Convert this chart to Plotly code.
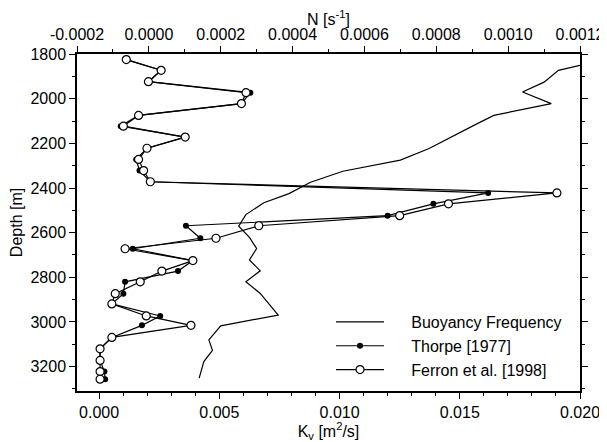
import plotly.graph_objects as go

# Buoyancy frequency N [s^-1] vs depth [m]
n_depth = [1851, 1873, 1926, 1970, 2022, 2075, 2115, 2175, 2223, 2275, 2325, 2374,
           2425, 2466, 2519, 2571, 2621, 2671, 2722, 2771, 2820, 2872, 2969, 3017,
           3080, 3127, 3177, 3251]
n_value = [0.00120, 0.00114, 0.00110, 0.00104, 0.00112, 0.00096, 0.00091, 0.00084,
           0.00078, 0.00070, 0.00054, 0.00045, 0.00039, 0.00032, 0.00027, 0.00025,
           0.00028, 0.00030, 0.00028, 0.00031, 0.00027, 0.00031, 0.00036, 0.00020,
           0.000167, 0.000177, 0.000153, 0.00014]

# Kv [m^2/s] vs depth [m]
k_depth = [1825, 1873, 1924, 1973, 2022, 2075, 2123, 2172, 2222, 2272, 2322, 2372,
           2422, 2471, 2524, 2569, 2625, 2672, 2725, 2772, 2820, 2873, 2919, 2973,
           3015, 3069, 3120, 3172, 3222, 3256]
thorpe_kv = [0.00113, 0.00258, 0.00205, 0.00629, 0.00592, 0.00164, 0.00090, 0.00358,
             0.00199, 0.00154, 0.00168, 0.00213, 0.01618, 0.01390, 0.01200, 0.00361,
             0.00421, 0.00140, 0.00390, 0.00328, 0.00108, 0.00101, 0.00053, 0.00254,
             0.00178, 0.00053, 0.00004, 0.00004, 0.00022, 0.00025]
ferron_kv = [0.00113, 0.00258, 0.00205, 0.00611, 0.00592, 0.00164, 0.00101, 0.00358,
             0.00199, 0.00164, 0.00185, 0.00213, 0.01904, 0.01453, 0.01250, 0.00664,
             0.00486, 0.00108, 0.00390, 0.00261, 0.00171, 0.00067, 0.00053, 0.00196,
             0.00382, 0.00053, 0.00004, 0.00004, 0.00004, 0.00004]

n_tickvals = [-0.0002, 0.0, 0.0002, 0.0004, 0.0006, 0.0008, 0.0010, 0.0012]
n_ticktext = ["-0.0002", "0.0000", "0.0002", "0.0004", "0.0006", "0.0008", "0.0010", "0.0012"]
k_tickvals = [0.0, 0.005, 0.010, 0.015, 0.020]
k_ticktext = ["0.000", "0.005", "0.010", "0.015", "0.020"]
depth_tickvals = [1800, 2000, 2200, 2400, 2600, 2800, 3000, 3200]

FONT = "Liberation Sans, Arial, sans-serif"
FS = 16
PAD = "\u00a0" * 5  # gap between legend line sample and label

fig = go.Figure()
fig.add_trace(go.Scatter(
    x=n_value, y=n_depth, xaxis="x2", yaxis="y", mode="lines",
    name=PAD + "Buoyancy Frequency", line=dict(color="black", width=1.2)))
fig.add_trace(go.Scatter(
    x=thorpe_kv, y=k_depth, mode="lines+markers", name=PAD + "Thorpe [1977]",
    line=dict(color="black", width=1.2),
    marker=dict(symbol="circle", size=6, color="black")))
fig.add_trace(go.Scatter(
    x=ferron_kv, y=k_depth, mode="lines+markers", name=PAD + "Ferron et al. [1998]",
    line=dict(color="black", width=1.2),
    marker=dict(symbol="circle", size=8, color="white",
                line=dict(color="black", width=1.2))))

axis_common = dict(
    showgrid=False, zeroline=False, showline=True, linecolor="black", linewidth=1.5,
    ticks="outside", ticklen=6, tickwidth=1.2, tickcolor="black", automargin=False,
    tickfont=dict(family=FONT, size=FS, color="black"),
)

# page body adds an 8px offset, so the figure is drawn 8px smaller
fig.update_layout(
    template="none",
    width=599, height=434,
    margin=dict(l=69, r=27, t=46, b=51, autoexpand=False),
    paper_bgcolor="white", plot_bgcolor="white",
    font=dict(family=FONT, size=FS, color="black"),
    showlegend=True,
    legend=dict(x=0.505, y=0.255, xanchor="left", yanchor="top",
                bgcolor="rgba(0,0,0,0)", borderwidth=0,
                font=dict(family=FONT, size=FS, color="black"),
                tracegroupgap=0, itemwidth=48),
    xaxis=dict(
        **axis_common,
        range=[-0.00092, 0.020],
        tickvals=k_tickvals, ticktext=k_ticktext,
        minor=dict(dtick=0.001, tick0=0, ticks="outside", ticklen=3,
                   tickcolor="black", tickwidth=1),
        title=dict(text="K<sub>v</sub> [m<sup>2</sup>/s]", standoff=0,
                   font=dict(family=FONT, size=FS)),
    ),
    xaxis2=dict(
        **axis_common,
        overlaying="x", side="top", anchor="y",
        range=[-0.0002, 0.0012],
        tickvals=n_tickvals, ticktext=n_ticktext,
        minor=dict(dtick=0.0001, tick0=0, ticks="outside", ticklen=3,
                   tickcolor="black", tickwidth=1),
        title=dict(text="N [s<sup>-1</sup>]", standoff=6,
                   font=dict(family=FONT, size=FS)),
    ),
    yaxis=dict(
        **axis_common,
        range=[3309, 1800],
        tickvals=depth_tickvals,
        mirror="ticks",
        minor=dict(dtick=100, tick0=1800, ticks="outside", ticklen=3,
                   tickcolor="black", tickwidth=1),
        title=dict(text="Depth [m]", standoff=4, font=dict(family=FONT, size=FS)),
    ),
)

fig.write_html("out.html")
